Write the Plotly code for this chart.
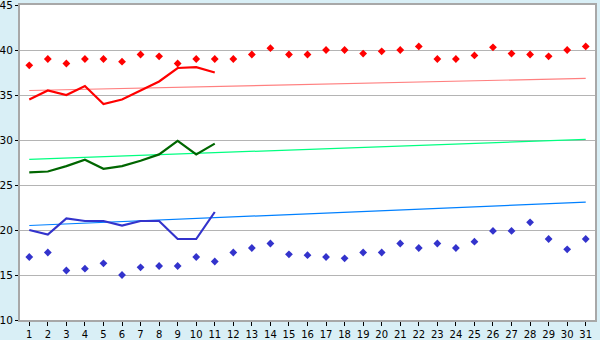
import plotly.graph_objects as go

days = list(range(1, 32))
record_max = [38.3, 39.0, 38.5, 39.0, 39.0, 38.7, 39.5, 39.3, 38.5, 39.0, 39.0,
              39.0, 39.5, 40.2, 39.5, 39.5, 40.0, 40.0, 39.6, 39.85, 40.0, 40.4,
              39.0, 39.0, 39.4, 40.3, 39.6, 39.5, 39.3, 40.0, 40.4]
record_min = [17.0, 17.5, 15.5, 15.7, 16.3, 15.0, 15.85, 16.0, 16.0, 17.0, 16.5,
              17.5, 18.0, 18.5, 17.3, 17.2, 17.0, 16.85, 17.5, 17.5, 18.5, 18.0,
              18.5, 18.0, 18.7, 19.9, 19.9, 20.85, 19.0, 17.85, 19.0]
obs_days = list(range(1, 12))
obs_max = [34.5, 35.5, 35.0, 36.0, 34.0, 34.5, 35.5, 36.5, 38.0, 38.1, 37.5]
obs_mean = [26.4, 26.5, 27.1, 27.8, 26.8, 27.1, 27.7, 28.4, 29.9, 28.4, 29.6]
obs_min = [20.0, 19.5, 21.3, 21.0, 21.0, 20.5, 21.0, 21.0, 19.0, 19.0, 22.0]
trend_days = [1, 31]
normal_max = [35.5, 36.85]
normal_mean = [27.85, 30.07]
normal_min = [20.5, 23.1]

fig = go.Figure()
fig.add_trace(go.Scatter(x=trend_days, y=normal_max, mode="lines",
                         line=dict(color="#FF8080", width=1.2), hoverinfo="skip"))
fig.add_trace(go.Scatter(x=trend_days, y=normal_mean, mode="lines",
                         line=dict(color="#00FF80", width=1.2), hoverinfo="skip"))
fig.add_trace(go.Scatter(x=trend_days, y=normal_min, mode="lines",
                         line=dict(color="#0080FF", width=1.2), hoverinfo="skip"))
fig.add_trace(go.Scatter(x=days, y=record_max, mode="markers",
                         marker=dict(symbol="diamond", size=6, color="#FF0000")))
fig.add_trace(go.Scatter(x=days, y=record_min, mode="markers",
                         marker=dict(symbol="diamond", size=6, color="#3333CC")))
fig.add_trace(go.Scatter(x=obs_days, y=obs_max, mode="lines",
                         line=dict(color="#FF0000", width=2.2)))
fig.add_trace(go.Scatter(x=obs_days, y=obs_mean, mode="lines",
                         line=dict(color="#006600", width=2.2)))
fig.add_trace(go.Scatter(x=obs_days, y=obs_min, mode="lines",
                         line=dict(color="#3333CC", width=2.2)))

fig.update_layout(
    width=600, height=340,
    margin=dict(l=20, r=5, t=5, b=20, autoexpand=False),
    paper_bgcolor="#D9EFF6",
    plot_bgcolor="#FFFFFF",
    showlegend=False,
    font=dict(family="DejaVu Sans", size=10, color="#000000"),
)
fig.update_xaxes(range=[0.5, 31.5], tickmode="array", tickvals=days,
                 ticktext=[str(d) for d in days], automargin=False,
                 ticklabeloverflow="allow",
                 showgrid=False, zeroline=False,
                 showline=True, linecolor="#A8A8A8", linewidth=2, mirror=True,
                 ticks="outside", ticklen=4, tickcolor="#000000", tickwidth=1,
                 tickfont=dict(size=10))
fig.update_yaxes(range=[10, 45], tickmode="array", tickvals=[10, 15, 20, 25, 30, 35, 40, 45],
                 automargin=False, ticklabeloverflow="allow",
                 showgrid=True, gridcolor="#B4B4B4", gridwidth=1, zeroline=False,
                 showline=True, linecolor="#A8A8A8", linewidth=2, mirror=True,
                 ticks="outside", ticklen=3, tickcolor="#000000", tickwidth=1,
                 tickfont=dict(size=10.5))

fig.write_html("out.html")
